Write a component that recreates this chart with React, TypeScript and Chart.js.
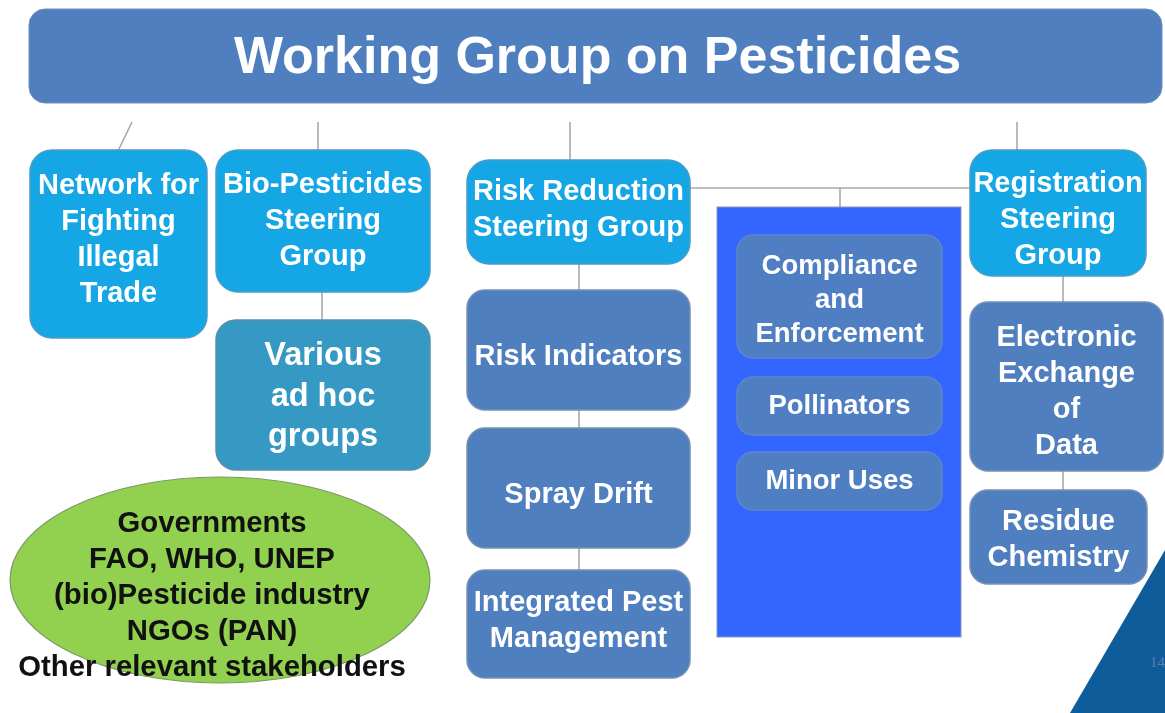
import React, { useEffect, useRef } from "react";
import { Chart, registerables } from "chart.js";

Chart.register(...registerables);

// ---- data ----
const titleText = "Working Group on Pesticides";
const titleBox = [29, 1162, 9, 103]; // left, right, top, bottom (diagram units)

const nodeLabels: string[][] = [
  ["Network for", "Fighting", "Illegal", "Trade"],
  ["Bio-Pesticides", "Steering", "Group"],
  ["Various", "ad hoc", "groups"],
  ["Risk Reduction", "Steering Group"],
  ["Risk Indicators"],
  ["Spray Drift"],
  ["Integrated Pest", "Management"],
  ["Compliance", "and", "Enforcement"],
  ["Pollinators"],
  ["Minor Uses"],
  ["Registration", "Steering", "Group"],
  ["Electronic", "Exchange", "of", "Data"],
  ["Residue", "Chemistry"],
];
const nodeLeft = [30, 216, 216, 467, 467, 467, 467, 737, 737, 737, 970, 970, 970];
const nodeRight = [207, 430, 430, 690, 690, 690, 690, 942, 942, 942, 1146, 1163, 1147];
const nodeTop = [150, 150, 320, 160, 290, 428, 570, 235, 377, 452, 150, 302, 490];
const nodeBottom = [338, 292, 470, 264, 410, 548, 678, 358, 435, 510, 276, 471, 584];
const nodeTextShift = [-5, -1, 1, -3, 6, 6, -4, 3, -1, -1, 6, 4, 2];
const nodeKind = [0, 0, 1, 0, 2, 2, 2, 3, 3, 3, 0, 2, 2];

// connectors: x1, y1, x2, y2
const linkX1 = [132, 318, 570, 690, 840, 1017, 579, 579, 579, 322, 1063, 1063];
const linkY1 = [122, 122, 122, 188, 188, 122, 264, 410, 548, 292, 276, 471];
const linkX2 = [118, 318, 570, 970, 840, 1017, 579, 579, 579, 322, 1063, 1063];
const linkY2 = [151, 151, 160, 188, 207, 150, 290, 428, 570, 320, 302, 490];

const panelBox = [717, 961, 207, 637];

const stakeholderLines = [
  "Governments",
  "FAO, WHO, UNEP",
  "(bio)Pesticide industry",
  "NGOs (PAN)",
  "Other relevant stakeholders",
];
const ellipseShape = [220, 580, 210, 103]; // cx, cy, rx, ry

const cornerTriangleX = [1165, 1070, 1165];
const cornerTriangleY = [550, 713, 713];
const pageLabel = "14";

// ---- styles ----
const kindFill = ["#15a6e6", "#3699c4", "#4f7fbe", "#4f7fc2"];
const kindStroke = ["#4a9cc8", "#5b8fa8", "#7891b5", "#5f86c8"];
const kindRadius = [22, 20, 18, 16];
const kindFont = [29, 32.5, 29, 27.5];
const kindLineGap = [36, 40.5, 36, 34];
const FONT = '"Liberation Sans", Arial, sans-serif';

const diagramPlugin = {
  id: "diagram",
  beforeDatasetsDraw(chart: any) {
    const ctx: CanvasRenderingContext2D = chart.ctx;
    const xs = chart.scales.x;
    const ys = chart.scales.y;
    const px = (v: number) => xs.getPixelForValue(v);
    const py = (v: number) => ys.getPixelForValue(v);
    ctx.save();

    // connectors
    ctx.strokeStyle = "#a8a8a8";
    ctx.lineWidth = 1.6;
    for (let i = 0; i < linkX1.length; i++) {
      ctx.beginPath();
      ctx.moveTo(px(linkX1[i]), py(linkY1[i]));
      ctx.lineTo(px(linkX2[i]), py(linkY2[i]));
      ctx.stroke();
    }

    // title box
    {
      const l = px(titleBox[0]), r = px(titleBox[1]), t = py(titleBox[2]), b = py(titleBox[3]);
      ctx.beginPath();
      ctx.roundRect(l, t, r - l, b - t, 16);
      ctx.fillStyle = "#4f7fbf";
      ctx.fill();
      ctx.strokeStyle = "#6f8fbf";
      ctx.lineWidth = 1;
      ctx.stroke();
      ctx.fillStyle = "#ffffff";
      ctx.font = `bold 52px ${FONT}`;
      ctx.textAlign = "center";
      ctx.textBaseline = "middle";
      ctx.fillText(titleText, (l + r) / 2 + 2, (t + b) / 2 + 3);
    }

    // panel
    {
      const l = px(panelBox[0]), r = px(panelBox[1]), t = py(panelBox[2]), b = py(panelBox[3]);
      ctx.fillStyle = "#3366fe";
      ctx.fillRect(l, t, r - l, b - t);
      ctx.strokeStyle = "#8a9ab8";
      ctx.lineWidth = 1;
      ctx.strokeRect(l, t, r - l, b - t);
    }

    // nodes
    for (let i = 0; i < nodeLabels.length; i++) {
      const k = nodeKind[i];
      const l = px(nodeLeft[i]), r = px(nodeRight[i]), t = py(nodeTop[i]), b = py(nodeBottom[i]);
      ctx.beginPath();
      ctx.roundRect(l, t, r - l, b - t, kindRadius[k]);
      ctx.fillStyle = kindFill[k];
      ctx.fill();
      ctx.strokeStyle = kindStroke[k];
      ctx.lineWidth = 1.5;
      ctx.stroke();
      ctx.fillStyle = "#ffffff";
      ctx.font = `bold ${kindFont[k]}px ${FONT}`;
      ctx.textAlign = "center";
      ctx.textBaseline = "middle";
      const lines = nodeLabels[i];
      const gap = kindLineGap[k];
      const cy = (t + b) / 2 + 1 + nodeTextShift[i];
      const cx = (l + r) / 2;
      lines.forEach((s, j) => {
        ctx.fillText(s, cx, cy + (j - (lines.length - 1) / 2) * gap);
      });
    }

    // stakeholder ellipse
    {
      const cx = px(ellipseShape[0]), cy = py(ellipseShape[1]);
      const rx = px(ellipseShape[0] + ellipseShape[2]) - cx;
      const ry = py(ellipseShape[1] + ellipseShape[3]) - cy;
      ctx.beginPath();
      ctx.ellipse(cx, cy, rx, ry, 0, 0, Math.PI * 2);
      ctx.fillStyle = "#92d050";
      ctx.fill();
      ctx.strokeStyle = "#7a9a68";
      ctx.lineWidth = 1.2;
      ctx.stroke();
      ctx.fillStyle = "#111111";
      ctx.font = `bold 29.3px ${FONT}`;
      ctx.textAlign = "center";
      ctx.textBaseline = "middle";
      stakeholderLines.forEach((s, j) => {
        ctx.fillText(s, cx - 8, cy + 16 + (j - (stakeholderLines.length - 1) / 2) * 36);
      });
    }

    // corner triangle
    ctx.beginPath();
    cornerTriangleX.forEach((x, j) => {
      const X = px(x), Y = py(cornerTriangleY[j]);
      if (j === 0) ctx.moveTo(X, Y);
      else ctx.lineTo(X, Y);
    });
    ctx.closePath();
    ctx.fillStyle = "#0e5d9a";
    ctx.fill();
    ctx.fillStyle = "#5f7fa6";
    ctx.font = `15px "Liberation Serif", serif`;
    ctx.textAlign = "left";
    ctx.textBaseline = "middle";
    ctx.fillText(pageLabel, px(1150), py(663));

    ctx.restore();
  },
};

export default function App() {
  const ref = useRef<HTMLCanvasElement | null>(null);
  useEffect(() => {
    document.body.style.margin = "0";
    if (!ref.current) return;
    const centers = nodeLabels.map((_, i) => ({
      x: (nodeLeft[i] + nodeRight[i]) / 2,
      y: (nodeTop[i] + nodeBottom[i]) / 2,
    }));
    const chart = new Chart(ref.current, {
      type: "scatter",
      data: {
        datasets: [
          { data: centers, pointRadius: 0, pointHoverRadius: 0, showLine: false },
        ],
      },
      options: {
        animation: false,
        responsive: true,
        maintainAspectRatio: false,
        layout: { padding: 0 },
        events: [],
        plugins: { legend: { display: false }, tooltip: { enabled: false } },
        scales: {
          x: { type: "linear", min: 0, max: 1165, display: false },
          y: { type: "linear", min: 0, max: 713, reverse: true, display: false },
        },
      },
      plugins: [diagramPlugin],
    });
    return () => chart.destroy();
  }, []);
  return (
    <div style={{ position: "fixed", left: 0, top: 0, width: 1165, height: 713, background: "#ffffff" }}>
      <canvas ref={ref} />
    </div>
  );
}
